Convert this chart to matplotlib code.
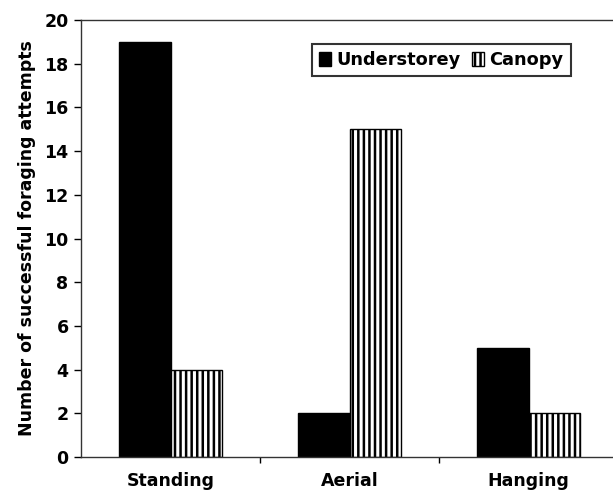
import matplotlib
matplotlib.use("Agg")
import matplotlib.pyplot as plt
import numpy as np

# Data
categories = ["Standing", "Aerial", "Hanging"]
understorey = [19, 2, 5]
canopy = [4, 15, 2]

plt.rcParams["font.family"] = "DejaVu Sans"
plt.rcParams["font.weight"] = "bold"
plt.rcParams["hatch.linewidth"] = 1.8
plt.rcParams["hatch.color"] = "black"

fig = plt.figure(figsize=(6.13, 4.93), dpi=100)
ax = fig.add_axes([81 / 613, 36 / 493, 537 / 613, 437 / 493])

x = np.arange(len(categories))
w = 0.29
ax.bar(x - w / 2, understorey, w, color="black", edgecolor="black", linewidth=1, label="Understorey")
ax.bar(x + w / 2, canopy, w, color="white", edgecolor="black", linewidth=1, hatch="|||", label="Canopy")

ax.set_xlim(-0.5, 2.5)
ax.set_ylim(0, 20)
ax.set_yticks(range(0, 21, 2))
ax.set_xticks(x)
ax.set_xticklabels(categories, fontsize=12.5, fontweight="bold")
ax.set_xticks([0.5, 1.5], minor=True)
ax.tick_params(axis="x", which="major", length=0, pad=11)
ax.tick_params(axis="x", which="minor", length=4, width=1, direction="out")
ax.tick_params(axis="y", length=5, width=1, labelsize=12.5, pad=4)
for lab in ax.get_yticklabels():
    lab.set_fontweight("bold")

ax.spines["right"].set_visible(False)
for s in ["left", "bottom", "top"]:
    ax.spines[s].set_linewidth(1)
    ax.spines[s].set_color("#333333")

ax.set_ylabel("Number of successful foraging attempts", fontsize=12.5, fontweight="bold", labelpad=6)

leg = ax.legend(loc="upper left", bbox_to_anchor=(0.43, 0.945), ncol=2, fontsize=12.8,
                frameon=True, fancybox=False, edgecolor="black", handlelength=0.7,
                handleheight=0.9, handletextpad=0.3, columnspacing=0.6, borderpad=0.4,
                borderaxespad=0)
leg.get_frame().set_linewidth(1.5)
for t in leg.get_texts():
    t.set_fontweight("bold")

fig.savefig("out.png", dpi=100)
